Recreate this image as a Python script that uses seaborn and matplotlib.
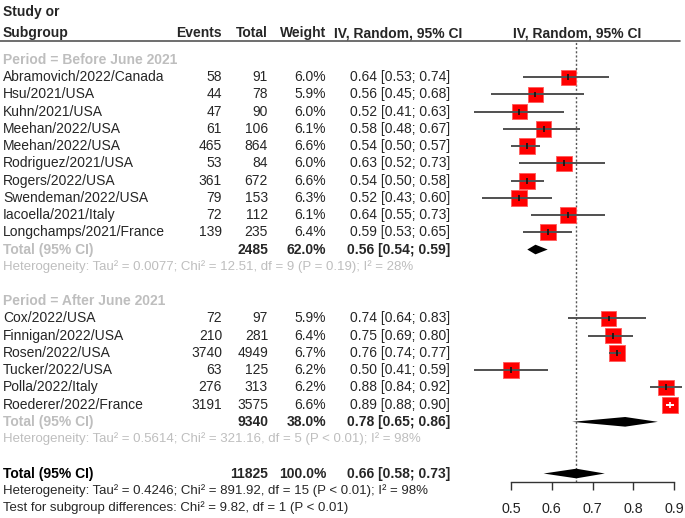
import numpy as np
import pandas as pd
import seaborn as sns
import matplotlib.pyplot as plt
from matplotlib import transforms
from matplotlib.lines import Line2D

# Period = Before June 2021
studies_pre = ['Abramovich/2022/Canada', 'Hsu/2021/USA', 'Kuhn/2021/USA', 'Meehan/2022/USA',
               'Meehan/2022/USA', 'Rodriguez/2021/USA', 'Rogers/2022/USA', 'Swendeman/2022/USA',
               'Iacoella/2021/Italy', 'Longchamps/2021/France']
events_pre = [58, 44, 47, 61, 465, 53, 361, 79, 72, 139]
total_pre = [91, 78, 90, 106, 864, 84, 672, 153, 112, 235]
weight_pre = [6.0, 5.9, 6.0, 6.1, 6.6, 6.0, 6.6, 6.3, 6.1, 6.4]
est_pre = [0.64, 0.56, 0.52, 0.58, 0.54, 0.63, 0.54, 0.52, 0.64, 0.59]
lo_pre = [0.53, 0.45, 0.41, 0.48, 0.50, 0.52, 0.50, 0.43, 0.55, 0.53]
hi_pre = [0.74, 0.68, 0.63, 0.67, 0.57, 0.73, 0.58, 0.60, 0.73, 0.65]

# Period = After June 2021
studies_post = ['Cox/2022/USA', 'Finnigan/2022/USA', 'Rosen/2022/USA', 'Tucker/2022/USA',
                'Polla/2022/Italy', 'Roederer/2022/France']
events_post = [72, 210, 3740, 63, 276, 3191]
total_post = [97, 281, 4949, 125, 313, 3575]
weight_post = [5.9, 6.4, 6.7, 6.2, 6.2, 6.6]
est_post = [0.74, 0.75, 0.76, 0.50, 0.88, 0.89]
lo_post = [0.64, 0.69, 0.74, 0.41, 0.84, 0.88]
hi_post = [0.83, 0.80, 0.77, 0.59, 0.92, 0.90]

# pooled results: before, after, overall
pooled_n = [2485, 9340, 11825]
pooled_w = [62.0, 38.0, 100.0]
pooled_est = [0.56, 0.78, 0.66]
pooled_lo = [0.54, 0.65, 0.58]
pooled_hi = [0.59, 0.86, 0.73]

het_pre = 'Heterogeneity: Tau² = 0.0077; Chi² = 12.51, df = 9 (P = 0.19); I² = 28%'
het_post = 'Heterogeneity: Tau² = 0.5614; Chi² = 321.16, df = 5 (P < 0.01); I² = 98%'
het_all = 'Heterogeneity: Tau² = 0.4246; Chi² = 891.92, df = 15 (P < 0.01); I² = 98%'
test_sub = 'Test for subgroup differences: Chi² = 9.82, df = 1 (P < 0.01)'

xticks = [0.5, 0.6, 0.7, 0.8, 0.9]

# row layout
rows_pre = list(range(1, 11))
rows_post = list(range(15, 21))
pooled_rows = [11, 21, 24]

df = pd.DataFrame({
    'study': studies_pre + studies_post,
    'events': events_pre + events_post,
    'total': total_pre + total_post,
    'weight': weight_pre + weight_post,
    'est': est_pre + est_post,
    'lo': lo_pre + lo_post,
    'hi': hi_pre + hi_post,
    'row': rows_pre + rows_post,
})

sns.set_theme(style='white')
plt.rcParams['font.family'] = ['Liberation Sans', 'DejaVu Sans']
plt.rcParams['font.size'] = 10

W, H = 685, 518
fig = plt.figure(figsize=(6.85, 5.18), dpi=100)

# forest panel, placed in pixel terms
x0_px, x1_px = 465, 685
top_px, bot_px = 41, 481.7
ax = fig.add_axes([x0_px / W, 1 - bot_px / H, (x1_px - x0_px) / W, (bot_px - top_px) / H])
px_per_unit = 408.0
ax.set_xlim(0.5 - (511 - x0_px) / px_per_unit, 0.9 + (x1_px - 674.3) / px_per_unit + 0.0004)
row0_px, row_step = 60, 17.23
ax.set_ylim((bot_px - row0_px) / row_step, (top_px - row0_px) / row_step)

# squares, sized by weight
side_px = 16.0 * np.sqrt(df['weight'] / 6.7)
df['size'] = (side_px * 0.72) ** 2
sns.scatterplot(data=df, x='est', y='row', size='size', sizes=(df['size'].min(), df['size'].max()),
                marker='s', color='#ff0000', edgecolor='#ff5a5a', linewidth=0.6,
                legend=False, ax=ax, zorder=2)

half_sq = side_px / 2 / px_per_unit
inside = (df['est'] - df['lo'] <= half_sq) & (df['hi'] - df['est'] <= half_sq)
line_col = np.where(inside, 'white', '#505050')
tick_col = np.where(inside, 'white', '#111111')
ax.hlines(df['row'], df['lo'], df['hi'], colors=line_col, lw=1.4, zorder=3)
ax.vlines(df['est'], df['row'] - 0.17, df['row'] + 0.17, colors=tick_col, lw=1.2, zorder=3)

# diamonds
for r, e, l, h in zip(pooled_rows, pooled_est, pooled_lo, pooled_hi):
    ax.fill([l, e, h, e], [r, r - 0.28, r, r + 0.28], color='black', lw=0, zorder=3)

ax.axvline(pooled_est[2], color='#555555', lw=1, ls=(0, (1.5, 1.5)), zorder=1)

for s in ['top', 'right', 'left']:
    ax.spines[s].set_visible(False)
ax.spines['bottom'].set_bounds(xticks[0], xticks[-1])
ax.spines['bottom'].set_color('#333333')
ax.spines['bottom'].set_linewidth(1)
ax.set_xticks(xticks)
ax.set_xticklabels([f'{t:.1f}' for t in xticks])
ax.set_yticks([])
ax.set_xlabel('')
ax.set_ylabel('')
ax.tick_params(axis='x', bottom=True, direction='out', length=5.5, width=1, color='#333333',
               labelsize=10.3, labelcolor='#222222', pad=9)

# table text
tr = transforms.blended_transform_factory(fig.transFigure, ax.transData)
grey = '#bebebe'


def put(xpx, row, s, ha='left', **kw):
    ax.text(xpx / W, row, s, transform=tr, ha=ha, va='center', clip_on=False, **kw)


X_NAME, X_EV, X_TOT, X_W, X_CI = 3, 222, 268, 326, 450

# header
hdr_r1 = (12 - row0_px) / row_step
hdr_r2 = (33 - row0_px) / row_step
put(X_NAME, hdr_r1, 'Study or', fontweight='bold')
put(X_NAME, hdr_r2, 'Subgroup', fontweight='bold')
put(X_EV, hdr_r2, 'Events', ha='right', fontweight='bold')
put(X_TOT, hdr_r2, 'Total', ha='right', fontweight='bold')
put(X_W, hdr_r2, 'Weight', ha='right', fontweight='bold')
put(398, hdr_r2, 'IV, Random, 95% CI', ha='center', fontweight='bold')
put(577, hdr_r2, 'IV, Random, 95% CI', ha='center', fontweight='bold')
fig.add_artist(Line2D([0, 680 / W], [1 - top_px / H] * 2, transform=fig.transFigure,
                      color='#555555', lw=1.2))

put(X_NAME, 0, 'Period = Before June 2021', color=grey, fontweight='bold')
put(X_NAME, 14, 'Period = After June 2021', color=grey, fontweight='bold')

for _, d in df.iterrows():
    put(X_NAME, d['row'], d['study'])
    put(X_EV, d['row'], f"{d['events']}", ha='right')
    put(X_TOT, d['row'], f"{d['total']}", ha='right')
    put(X_W, d['row'], f"{d['weight']:.1f}%", ha='right')
    put(X_CI, d['row'], f"{d['est']:.2f} [{d['lo']:.2f}; {d['hi']:.2f}]", ha='right')

for i, r in enumerate(pooled_rows):
    put(X_NAME, r, 'Total (95% CI)', color='black' if i == 2 else grey, fontweight='bold')
    put(X_TOT, r, f'{pooled_n[i]}', ha='right', fontweight='bold')
    put(X_W, r, f'{pooled_w[i]:.1f}%', ha='right', fontweight='bold')
    put(X_CI, r, f'{pooled_est[i]:.2f} [{pooled_lo[i]:.2f}; {pooled_hi[i]:.2f}]',
        ha='right', fontweight='bold')

put(X_NAME, 12, het_pre, color=grey, fontsize=9.5)
put(X_NAME, 22, het_post, color=grey, fontsize=9.5)
put(X_NAME, 25, het_all, fontsize=9.5)
put(X_NAME, 26, test_sub, fontsize=9.5)

fig.savefig('out.png', dpi=100)
